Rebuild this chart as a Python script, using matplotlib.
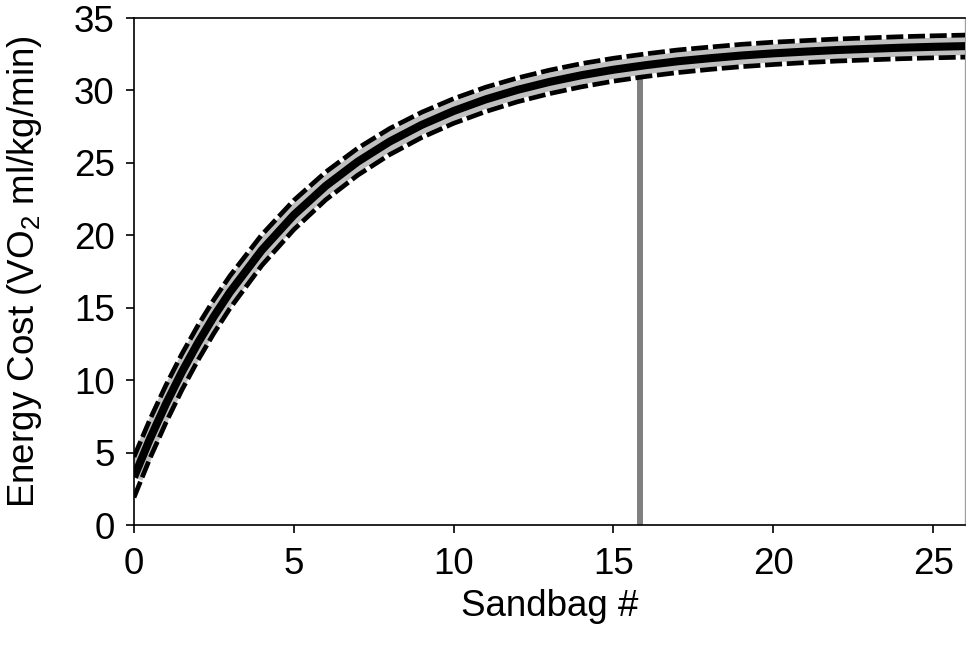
import matplotlib
matplotlib.use("Agg")
import matplotlib.pyplot as plt

plt.rcParams['font.family'] = ['Liberation Sans', 'DejaVu Sans']
plt.rcParams['mathtext.fontset'] = 'custom'
plt.rcParams['mathtext.rm'] = 'Liberation Sans'
plt.rcParams['mathtext.it'] = 'Liberation Sans'

# Sandbag number
sandbag = [0, 0.5, 1, 1.5, 2, 2.5, 3, 4, 5, 6, 7, 8, 9, 10, 11, 12, 13,
           14, 15, 16, 17, 18, 19, 20, 21, 22, 23, 24, 25, 26]
# Fitted energy cost (VO2 ml/kg/min)
energy_fit = [3.30, 5.95, 8.36, 10.57, 12.57, 14.40, 16.07, 18.98, 21.40,
              23.41, 25.08, 26.47, 27.62, 28.58, 29.38, 30.04, 30.59, 31.05,
              31.43, 31.74, 32.01, 32.22, 32.41, 32.56, 32.68, 32.79, 32.87,
              32.95, 33.01, 33.06]
# Upper and lower bounds
energy_upper = [4.70, 7.29, 9.65, 11.81, 13.77, 15.56, 17.19, 20.04, 22.41,
                24.37, 26.01, 27.37, 28.49, 29.43, 30.22, 30.86, 31.40, 31.85,
                32.22, 32.52, 32.79, 32.99, 33.18, 33.33, 33.44, 33.55, 33.63,
                33.71, 33.77, 33.82]
energy_lower = [1.90, 4.61, 7.07, 9.33, 11.37, 13.24, 14.95, 17.92, 20.39,
                22.45, 24.15, 25.57, 26.75, 27.73, 28.54, 29.22, 29.78, 30.25,
                30.64, 30.96, 31.23, 31.45, 31.64, 31.79, 31.92, 32.03, 32.11,
                32.19, 32.25, 32.30]
# Plateau marker
plateau_x = 15.84
plateau_y = 31.5

fig = plt.figure(figsize=(9.66, 6.5), dpi=100)
ax = fig.add_axes([0.1387, 0.1923, 0.8603, 0.78])

ax.plot(sandbag, energy_fit, color='#c0c0c0', lw=13, solid_capstyle='butt', zorder=2)
ax.plot(sandbag, energy_fit, color='black', lw=5.8, solid_capstyle='butt', zorder=3)
ax.plot(sandbag, energy_upper, color='black', lw=3.4, dashes=(3.6, 1.0),
        dash_capstyle='butt', zorder=4)
ax.plot(sandbag, energy_lower, color='black', lw=3.4, dashes=(3.6, 1.0),
        dash_capstyle='butt', zorder=4)
ax.plot([plateau_x, plateau_x], [0, plateau_y], color='#808080', lw=4.3,
        solid_capstyle='butt', zorder=1)

ax.set_xlim(0, 26)
ax.set_ylim(0, 35)
ax.set_xticks([0, 5, 10, 15, 20, 25])
ax.set_yticks([0, 5, 10, 15, 20, 25, 30, 35])
ax.tick_params(axis='both', direction='out', length=6, width=1.2,
               labelsize=26.5, colors='black')
ax.tick_params(axis='x', pad=10)
ax.tick_params(axis='y', pad=8)
for s in ['left', 'bottom', 'top']:
    ax.spines[s].set_color('black')
    ax.spines[s].set_linewidth(1.2)
ax.spines['right'].set_color('#a0a0a0')
ax.spines['right'].set_linewidth(1.0)

ax.set_xlabel('Sandbag #', fontsize=26.5, labelpad=5)
ax.set_ylabel('Energy Cost (VO$_2$ ml/kg/min)', fontsize=26.5, labelpad=21)

fig.savefig('out.png', dpi=100)
